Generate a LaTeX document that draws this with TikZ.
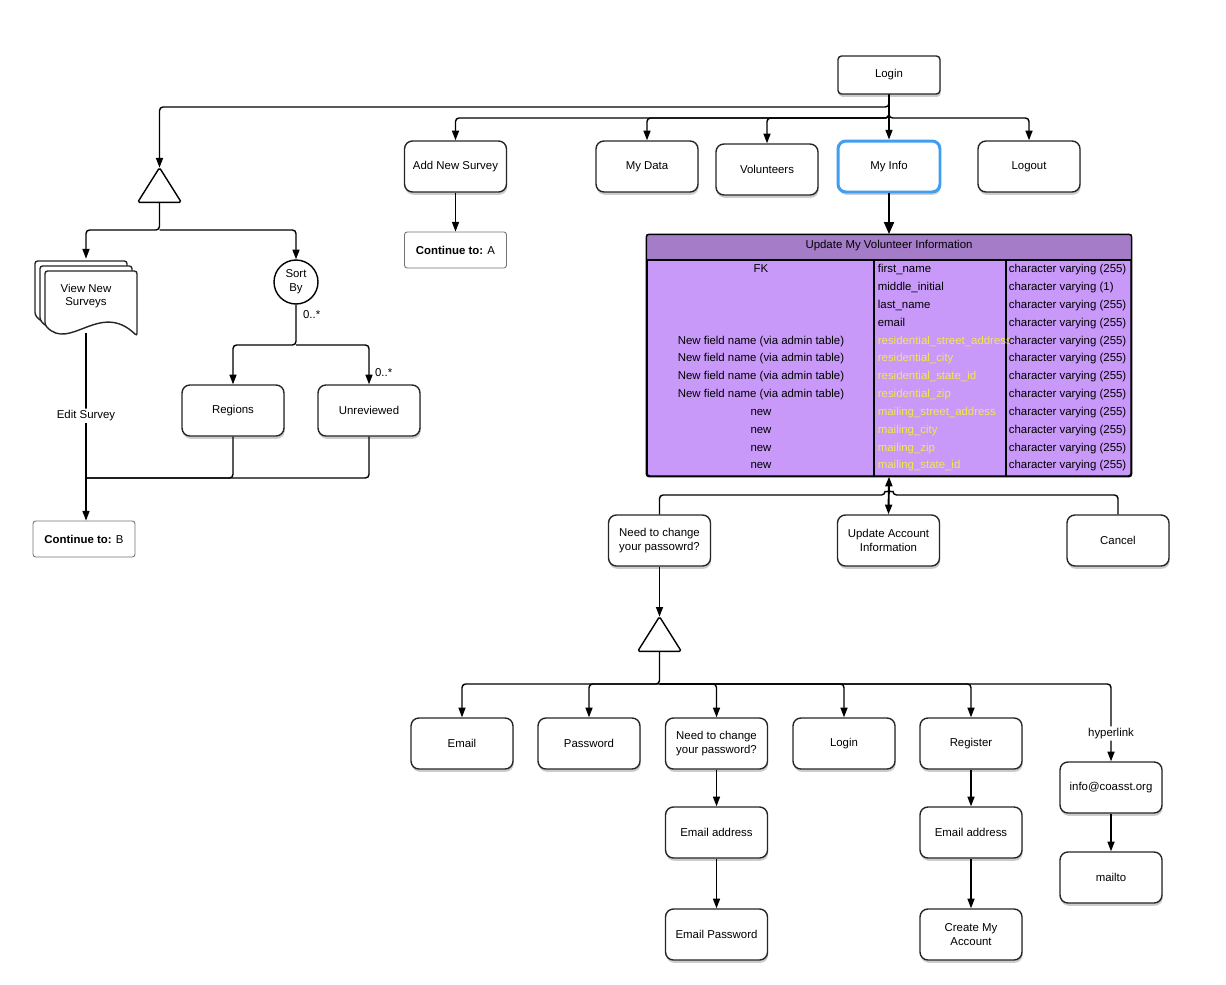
\documentclass[tikz,border=0pt]{standalone}
\usepackage{fontspec}
\setmainfont{Liberation Sans}
\usetikzlibrary{arrows.meta}
\usetikzlibrary{calc}
\usetikzlibrary{shadows}

\definecolor{hdrpurple}{RGB}{164,124,199}
\definecolor{bodypurple}{RGB}{200,153,249}
\definecolor{fieldyellow}{RGB}{242,230,80}
\definecolor{selblue}{RGB}{64,158,240}

\tikzset{
  box/.style={draw=black!85, line width=0.8pt, rounded corners=4.5pt, fill=white,
    minimum width=2.04cm, minimum height=1.02cm, align=center, inner sep=2pt,
    drop shadow={shadow xshift=0.4pt, shadow yshift=-1.6pt, opacity=0.2, fill=black}},
  topbox/.style={box, rounded corners=2pt, minimum height=0.76cm},
  selbox/.style={draw=selblue, line width=1.7pt},
  contbox/.style={draw=black!55, line width=0.5pt, rounded corners=1.5pt, fill=white,
    minimum width=2.04cm, minimum height=0.72cm},
  gate/.style={minimum width=0.86cm, minimum height=0.68cm, inner sep=0pt},
  sortcirc/.style={draw, circle, line width=0.8pt, minimum size=0.88cm, inner sep=0pt,
    align=center, fill=white},
  lbl/.style={inner sep=1pt},
  cell/.style={inner sep=0pt, text height=1.6ex, text depth=0.4ex},
  wire/.style={line width=0.8pt, rounded corners=2pt},
  conn/.style={wire, -{Triangle[length=5.5pt,width=4pt]}},
  dconn/.style={wire, {Triangle[length=5.5pt,width=4pt]}-{Triangle[length=5.5pt,width=4pt]}},
  docpage/.style={draw=black!85, line width=0.8pt, fill=white, rounded corners=1.5pt},
}

\begin{document}
\begin{tikzpicture}[x=0.02cm,y=-0.02cm,font=\fontsize{6.5}{7.9}\selectfont]
                \useasboundingbox (0,0) rectangle (1226,984);

                % top menu
                \node[topbox] (login) at (889,75) {Login};
                \node[box] (addsurvey) at (455.5,166.5) {Add New Survey};
                \node[box] (mydata) at (647,166.5) {My Data};
                \node[box] (volunteers) at (767,169.5) {Volunteers};
                \node[box,selbox] (myinfo) at (889,166.5) {My Info};
                \node[box] (logout) at (1029,166.5) {Logout};
                \node[contbox] (contA) at (455.5,250) {\textbf{Continue to:} A};

                \coordinate (splitL) at (889,107);
                \coordinate (split0) at (889,118);

                % left branch
                \node[gate] (gate1) at (159.5,185) {};
                \draw[wire,fill=white,rounded corners=1pt] (gate1.south west) -- (gate1.north) -- (gate1.south east) -- cycle;
                \coordinate (split1) at (159.5,230);

                \foreach \d in {-10,-5,0}
                    \draw[docpage] ({45+\d},{325+\d}) -- ({45+\d},{271+\d}) -- ({137+\d},{271+\d}) -- ({137+\d},{336+\d})
                        .. controls ({100+\d},{300+\d}) and ({70+\d},{352+\d}) .. ({45+\d},{325+\d}) -- cycle;
                \node[minimum width=2.04cm, minimum height=1.48cm, align=center] (view) at (86,296) {View New\\Surveys};

                \node[sortcirc] (sortby) at (296,282) {Sort\\By};
                \coordinate (split2) at (296,345);
                \node[box] (regions) at (233,410.5) {Regions};
                \node[box] (unrev) at (369,410.5) {Unreviewed};
                \node[contbox] (contB) at (84,539) {\textbf{Continue to:} B};
                \coordinate (mergeB) at (86,478);

                \node[lbl,anchor=west] (mult1) at (301,315) {0..*};
                \node[lbl,anchor=west] (mult2) at (373,373) {0..*};

                % table
                \node[draw, line width=0.8pt, fill=bodypurple, minimum width=9.68cm, minimum height=4.82cm,
                      inner sep=0pt, rounded corners=1.5pt] (upd) at (889,355.5) {};
                \fill[hdrpurple] (upd.north west) rectangle ($(upd.north east)+(0,25)$);
                \draw[line width=0.8pt] (647,260) -- (1131,260);
                \draw[line width=0.8pt] (874,260) -- (874,476);
                \draw[line width=0.8pt] (1006,260) -- (1006,476);
                \draw[line width=0.8pt, rounded corners=1.5pt] (upd.north west) rectangle (upd.south east);
                \node (updtitle) at (889,246) {Update My Volunteer Information};

                \foreach \fk/\fld/\typ/\fc [count=\i from 0] in {
                    FK/first\_name/255/black,
                    {}/middle\_initial/1/black,
                    {}/last\_name/255/black,
                    {}/email/255/black,
                    New field name (via admin table)/residential\_street\_address/255/fieldyellow,
                    New field name (via admin table)/residential\_city/255/fieldyellow,
                    New field name (via admin table)/residential\_state\_id/255/fieldyellow,
                    New field name (via admin table)/residential\_zip/255/fieldyellow,
                    new/mailing\_street\_address/255/fieldyellow,
                    new/mailing\_city/255/fieldyellow,
                    new/mailing\_zip/255/fieldyellow,
                    new/mailing\_state\_id/255/fieldyellow}{
                    \node[cell] (fk\i) at (761,{267.3+17.82*\i}) {\fk};
                    \node[cell,anchor=west,text=\fc] (fld\i) at (877.5,{267.3+17.82*\i}) {\fld};
                    \node[cell,anchor=west] (typ\i) at (1008.5,{267.3+17.82*\i}) {character varying (\typ)};
                }

                % below the table
                \node[box] (pwq) at (659.5,540.5) {Need to change\\your passowrd?};
                \node[box] (updacct) at (888.5,540.5) {Update Account\\Information};
                \node[box] (cancel) at (1118,540.5) {Cancel};
                \coordinate (hopL) at (885,495);

                \node[gate] (gate2) at (659.5,634) {};
                \draw[wire,fill=white,rounded corners=1pt] (gate2.south west) -- (gate2.north) -- (gate2.south east) -- cycle;
                \coordinate (split3) at (659.5,684);

                \node[box] (email) at (462,743.5) {Email};
                \node[box] (password) at (589,743.5) {Password};
                \node[box] (pwq2) at (716.5,743.5) {Need to change\\your password?};
                \node[box] (login2) at (844,743.5) {Login};
                \node[box] (register) at (971,743.5) {Register};
                \node[box] (info) at (1111,787.5) {info@coasst.org};
                \node[box] (mailto) at (1111,877.5) {mailto};
                \node[box] (emailaddr1) at (716.5,832.5) {Email address};
                \node[box] (emailpw) at (716.5,934.5) {Email Password};
                \node[box] (emailaddr2) at (971,832.5) {Email address};
                \node[box] (create) at (971,934.5) {Create My\\Account};

                % connectors
                \draw[conn] (login.south) -- (splitL) -| (gate1.north);
                \foreach \n in {addsurvey,mydata,volunteers,logout}
                    \draw[conn] (login.south) -- (split0) -| (\n.north);
                \draw[conn] (login.south) -- (myinfo.north);
                \draw[conn] (addsurvey.south) -- (contA.north);
                \draw[wire,-{Triangle[length=7pt,width=5.5pt]},line width=1.6pt] (myinfo.south) -- (upd.north);

                \draw[conn] (gate1.south) -- (split1) -| (view.north);
                \draw[conn] (split1) -| (sortby.north);
                \draw[conn] (sortby.south) -- (split2) -| (regions.north);
                \draw[conn] (split2) -| (unrev.north);
                \draw[conn] (view.south) -- node[lbl,fill=white,pos=0.44] (editlbl) {Edit Survey} (view.south |- contB.north);
                \draw[wire] (regions.south) |- (mergeB);
                \draw[wire] (unrev.south) |- (mergeB);

                \draw[dconn,line width=1.1pt] (upd.south) -- (updacct.north);
                \draw[wire] (pwq.north) |- (hopL) arc[start angle=180,end angle=360,radius=4] -| (cancel.north);
                \draw[conn] (pwq.south) -- (gate2.north);
                \draw[conn] (gate2.south) -- (split3) -| (email.north);
                \foreach \n in {password,pwq2,login2,register}
                    \draw[conn] (split3) -| (\n.north);
                \draw[conn] (split3) -| node[lbl,fill=white,pos=0.82] (hyperlbl) {hyperlink} (info.north);
                \draw[conn] (pwq2.south) -- (emailaddr1.north);
                \draw[conn] (emailaddr1.south) -- (emailpw.north);
                \draw[conn] (register.south) -- (emailaddr2.north);
                \draw[conn] (emailaddr2.south) -- (create.north);
                \draw[conn] (info.south) -- (mailto.north);
            \end{tikzpicture}
\end{document}
